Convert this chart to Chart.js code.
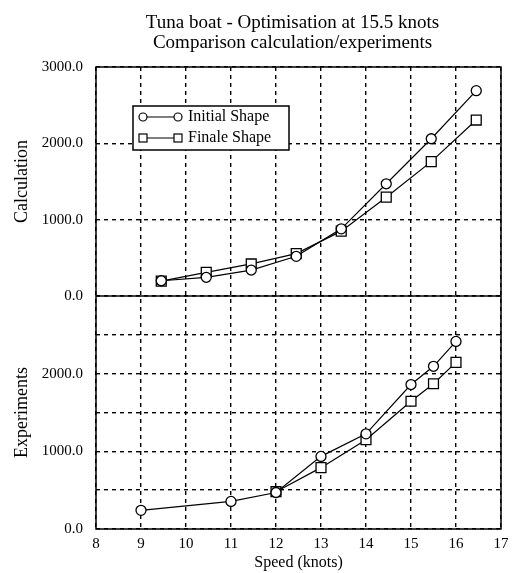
<!DOCTYPE html>
<html lang="en">
<head>
  <meta charset="UTF-8">
  <title>Tuna boat - Optimisation at 15.5 knots</title>
  <script src="https://cdn.jsdelivr.net/npm/chart.js"></script>
  <style>
    html, body { margin: 0; padding: 0; background: #fff; }
  </style>
</head>
<body>
  <canvas id="tunaChart" width="516" height="573"></canvas>
  <script>
    const titleLines = ['Tuna boat - Optimisation at 15.5 knots', 'Comparison calculation/experiments'];
    const seriesNames = ['Initial Shape', 'Finale Shape'];

    // top panel - calculation
    const calcSpeeds = [9.45, 10.45, 11.45, 12.45, 13.45, 14.45, 15.45, 16.45];
    const calcInitial = [200, 245, 340, 520, 880, 1470, 2060, 2690];
    const calcFinale = [195, 310, 420, 555, 850, 1295, 1760, 2305];

    // bottom panel - experiments
    const expSpeedsInitial = [9, 11, 12, 13, 14, 15, 15.5, 16];
    const expInitial = [240, 355, 470, 935, 1225, 1860, 2095, 2415];
    const expSpeedsFinale = [12, 13, 14, 15, 15.5, 16];
    const expFinale = [480, 790, 1150, 1645, 1870, 2145];

    const speedTicks = [8, 9, 10, 11, 12, 13, 14, 15, 16, 17];
    const calcLabels = [0, 1000, 2000, 3000];
    const expLabels = [0, 1000, 2000];

    const serif = 'Liberation Serif, Times New Roman, serif';

    function pairs(xs, ys) {
      return xs.map((x, i) => ({ x: x, y: ys[i] }));
    }

    function lineSet(label, data, axis, shape) {
      return {
        label: label,
        data: data,
        yAxisID: axis,
        borderColor: '#000',
        borderWidth: 1.2,
        pointStyle: shape,
        pointRadius: shape === 'rect' ? 7 : 5,
        pointBackgroundColor: '#fff',
        pointBorderColor: '#000',
        pointBorderWidth: 1.3,
        tension: 0
      };
    }

    function valueAxis(title, labels, weight) {
      return {
        type: 'linear',
        position: 'left',
        stack: 'panels',
        stackWeight: weight,
        min: 0,
        max: 3000,
        afterFit: s => { s.width = 91; },
        afterBuildTicks: s => {
          s.ticks = [0, 500, 1000, 1500, 2000, 2500, 3000].map(v => ({ value: v }));
        },
        ticks: {
          color: '#000',
          padding: 13,
          font: { family: serif, size: 15 },
          callback: v => labels.includes(v) ? v.toFixed(1) : ''
        },
        grid: { color: '#000', lineWidth: 1.4, drawTicks: false },
        border: { display: false, dash: [4, 4] },
        title: {
          display: true,
          text: title,
          color: '#000',
          font: { family: serif, size: 18 },
          padding: { top: 6, bottom: 0 }
        }
      };
    }

    const framePlugin = {
      id: 'frame',
      beforeDatasetsDraw(chart) {
        const { ctx, chartArea: a } = chart;
        const mid = chart.scales.yTop.bottom;
        ctx.save();
        ctx.strokeStyle = '#000';
        ctx.lineWidth = 1.5;
        ctx.strokeRect(a.left, a.top, a.right - a.left, a.bottom - a.top);
        ctx.beginPath();
        ctx.moveTo(a.left, mid);
        ctx.lineTo(a.right, mid);
        ctx.stroke();
        ctx.restore();
      }
    };

    const headingPlugin = {
      id: 'heading',
      afterDraw(chart) {
        const { ctx, chartArea: a } = chart;
        const cx = (a.left + a.right) / 2 - 6;
        ctx.save();
        ctx.fillStyle = '#000';
        ctx.font = '19px ' + serif;
        ctx.textAlign = 'center';
        ctx.textBaseline = 'middle';
        ctx.fillText(titleLines[0], cx, 23);
        ctx.fillText(titleLines[1], cx, 43);
        ctx.restore();
      }
    };

    // legend box sits inside the top panel
    const boxLegendPlugin = {
      id: 'boxLegend',
      afterDraw(chart) {
        const { ctx, chartArea: a } = chart;
        const bx = a.left + 37, by = a.top + 39, bw = 156, bh = 44;
        ctx.save();
        ctx.fillStyle = '#fff';
        ctx.fillRect(bx, by, bw, bh);
        ctx.strokeStyle = '#000';
        ctx.lineWidth = 1.5;
        ctx.strokeRect(bx, by, bw, bh);
        ctx.font = '16px ' + serif;
        ctx.textBaseline = 'middle';
        ctx.textAlign = 'left';
        [0, 1].forEach(i => {
          const ds = chart.data.datasets[i];
          const y = by + 11 + i * 21;
          ctx.lineWidth = 1.2;
          ctx.beginPath();
          ctx.moveTo(bx + 10, y);
          ctx.lineTo(bx + 45, y);
          ctx.stroke();
          [bx + 10, bx + 45].forEach(px => {
            ctx.fillStyle = '#fff';
            ctx.lineWidth = 1.2;
            if (ds.pointStyle === 'rect') {
              ctx.fillRect(px - 4, y - 4, 8, 8);
              ctx.strokeRect(px - 4, y - 4, 8, 8);
            } else {
              ctx.beginPath();
              ctx.arc(px, y, 4, 0, Math.PI * 2);
              ctx.fill();
              ctx.stroke();
            }
          });
          ctx.fillStyle = '#000';
          ctx.fillText(ds.label, bx + 55, y);
        });
        ctx.restore();
      }
    };

    new Chart(document.getElementById('tunaChart'), {
      type: 'line',
      data: {
        datasets: [
          lineSet(seriesNames[0], pairs(calcSpeeds, calcInitial), 'yTop', 'circle'),
          lineSet(seriesNames[1], pairs(calcSpeeds, calcFinale), 'yTop', 'rect'),
          lineSet(seriesNames[0], pairs(expSpeedsInitial, expInitial), 'yBot', 'circle'),
          lineSet(seriesNames[1], pairs(expSpeedsFinale, expFinale), 'yBot', 'rect')
        ]
      },
      options: {
        responsive: false,
        animation: false,
        layout: { padding: { left: 5, right: 15, top: 67, bottom: 1 } },
        plugins: {
          legend: { display: false },
          tooltip: { enabled: false }
        },
        scales: {
          x: {
            type: 'linear',
            min: 8,
            max: 17,
            afterFit: s => { s.height = 43; },
            afterBuildTicks: s => { s.ticks = speedTicks.map(v => ({ value: v })); },
            ticks: {
              color: '#000',
              padding: 6,
              maxRotation: 0,
              autoSkip: false,
              font: { family: serif, size: 15 },
              callback: v => String(v)
            },
            grid: { color: '#000', lineWidth: 1.4, drawTicks: false },
            border: { display: false, dash: [4, 4] },
            title: {
              display: true,
              text: 'Speed (knots)',
              color: '#000',
              font: { family: serif, size: 16 },
              padding: { top: 1, bottom: 0 }
            }
          },
          yBot: valueAxis('Experiments', expLabels, 233),
          yTop: valueAxis('Calculation', calcLabels, 229)
        }
      },
      plugins: [framePlugin, headingPlugin, boxLegendPlugin]
    });
  </script>
</body>
</html>
